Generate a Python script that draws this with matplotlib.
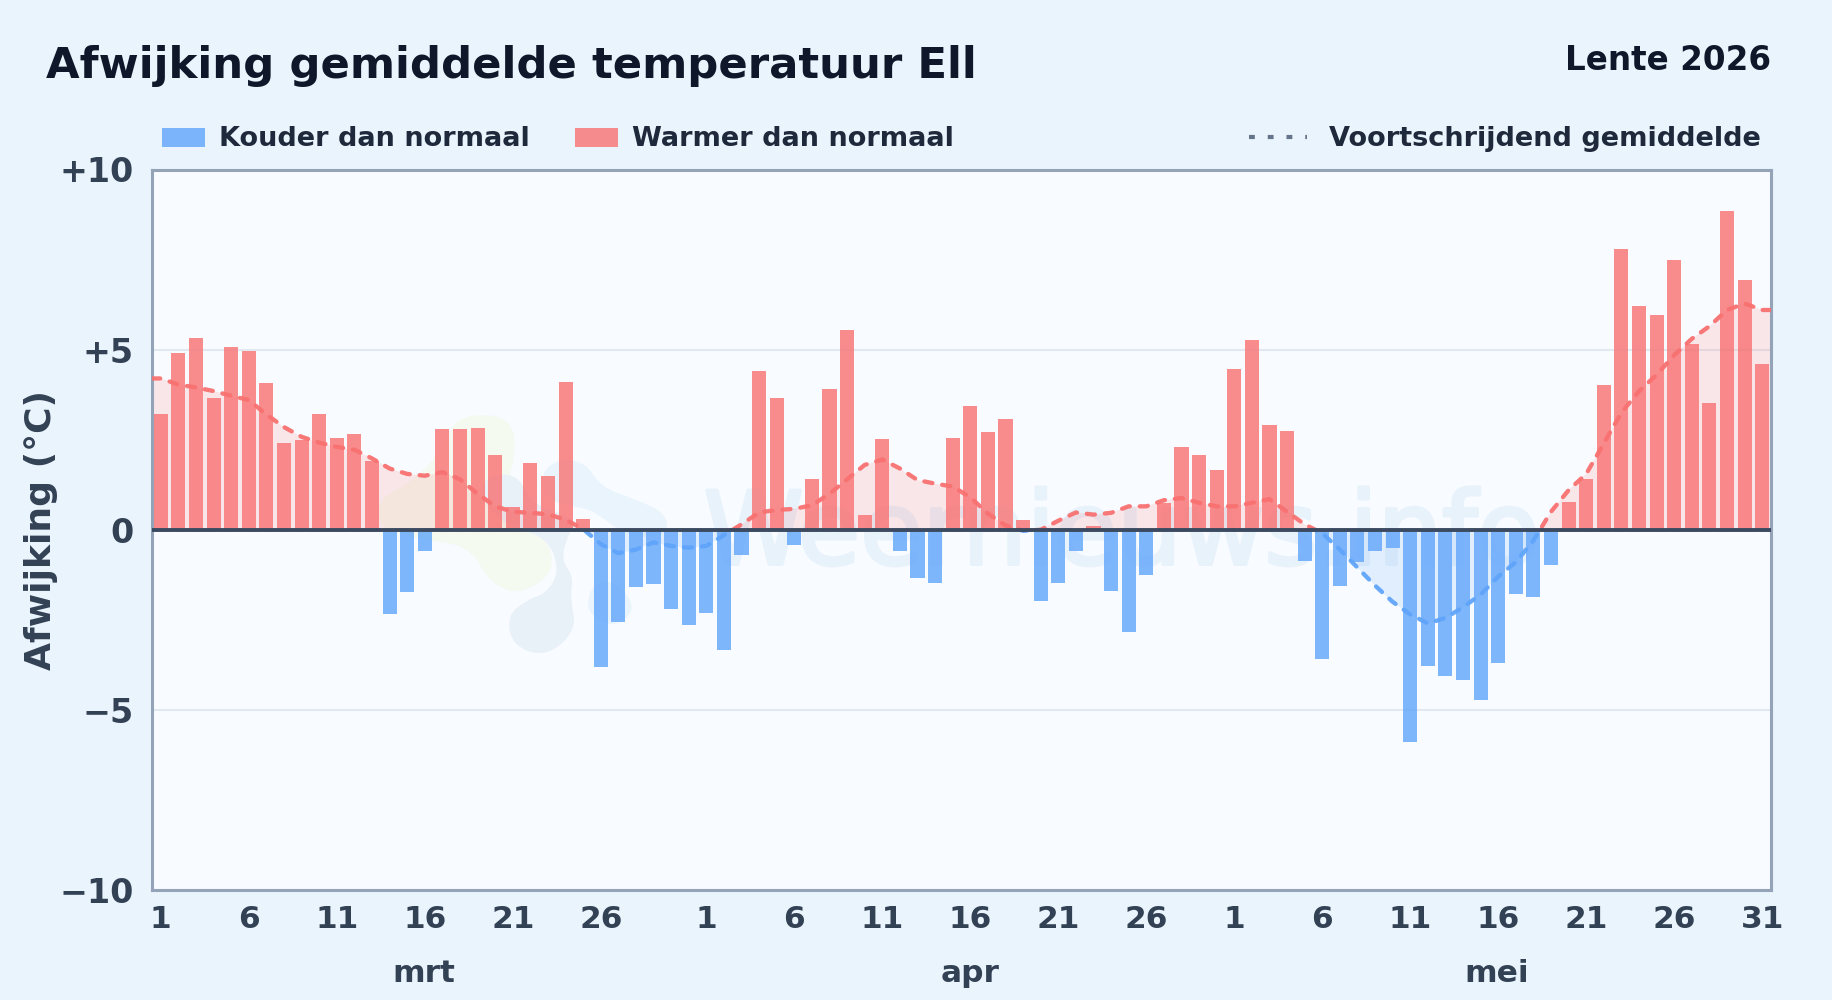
import numpy as np
import matplotlib
matplotlib.use('Agg')
import matplotlib.pyplot as plt
import matplotlib.patheffects as pe
from matplotlib.patches import Rectangle, Patch, PathPatch
from matplotlib.path import Path
from matplotlib.lines import Line2D
from matplotlib.transforms import Affine2D

# daily departure from normal, per month
mrt = [3.2, 4.9, 5.33, 3.65, 5.07, 4.97, 4.07, 2.4, 2.5, 3.2, 2.55, 2.67, 1.9, -2.35, -1.72, -0.6,
       2.8, 2.8, 2.83, 2.08, 0.62, 1.85, 1.5, 4.1, 0.3, -3.8, -2.55, -1.6, -1.5, -2.2, -2.65]
apr = [-2.3, -3.33, -0.7, 4.4, 3.67, -0.42, 1.4, 3.92, 5.55, 0.42, 2.53, -0.6, -1.33, -1.48, 2.55,
       3.43, 2.7, 3.07, 0.27, -1.97, -1.47, -0.58, 0.1, -1.7, -2.83, -1.25, 0.75, 2.3, 2.07, 1.65]
mei = [4.45, 5.27, 2.9, 2.75, -0.88, -3.6, -1.55, -0.9, -0.6, -0.5, -5.9, -3.77, -4.05, -4.18, -4.73,
       -3.7, -1.77, -1.87, -0.97, 0.77, 1.42, 4.02, 7.8, 6.2, 5.97, 7.5, 5.15, 3.52, 8.85, 6.93, 4.6]

# running mean
gemiddelde = [4.2, 4.03, 3.95, 3.85, 3.72, 3.6, 3.2, 2.85, 2.58, 2.42, 2.3, 2.22, 1.98, 1.7, 1.55, 1.5,
              1.6, 1.4, 1.0, 0.65, 0.5, 0.47, 0.43, 0.28, 0.02, -0.4, -0.65, -0.55, -0.35, -0.45, -0.5,
              -0.45, -0.15, 0.15, 0.48, 0.55, 0.58, 0.68, 1.0, 1.4, 1.8, 1.95, 1.7, 1.38, 1.28, 1.2,
              0.9, 0.45, 0.12, -0.03, 0.0, 0.25, 0.48, 0.42, 0.47, 0.65, 0.65, 0.82, 0.88, 0.75, 0.65,
              0.65, 0.75, 0.85, 0.5, 0.15, -0.1, -0.55, -1.05, -1.55, -2.0, -2.35, -2.6, -2.45, -2.15,
              -1.8, -1.3, -0.9, -0.3, 0.5, 1.1, 1.55, 2.4, 3.25, 3.85, 4.3, 4.85, 5.3, 5.65, 6.1, 6.28, 6.1]

day_ticks = [1, 6, 11, 16, 21, 26]
month_names = ['mrt', 'apr', 'mei']
y_ticks = [-10, -5, 0, 5, 10]
y_labels = ['\u221210', '\u22125', '0', '+5', '+10']

# faint logo shapes behind the chart, outline points in pixels
logo_green = [(370, 70), (280, 90), (250, 180), (150, 280), (50, 330), (60, 420), (200, 450), (330, 470),
              (390, 580), (480, 615), (580, 550), (570, 460), (500, 400), (440, 290), (470, 170), (450, 90)]
logo_grey = [(400, 250), (480, 260), (510, 340), (650, 385), (610, 470), (610, 520), (640, 560), (630, 620),
             (650, 720), (560, 800), (460, 770), (440, 680), (500, 630), (560, 610), (600, 540), (560, 440),
             (420, 400), (350, 300)]
logo_blue = [(600, 205), (680, 220), (720, 290), (830, 330), (920, 370), (920, 440), (800, 440), (700, 360),
             (640, 350), (560, 330), (540, 250)]
logo_dot = [(690, 570), (770, 560), (840, 650), (790, 710), (730, 715), (665, 660)]

RED = '#f87171'
BLUE = '#60a5fa'
INK = '#334155'
DARK = '#1e293b'
W, H = 1832, 1000

plt.rcParams['font.family'] = 'DejaVu Sans'
plt.rcParams['font.weight'] = 'bold'
plt.rcParams['axes.labelweight'] = 'bold'


def blob(points):
    # closed smooth outline through the midpoints
    pts = np.array(points) / 3 + (360, 390)
    mids = (pts + np.roll(pts, -1, axis=0)) / 2
    verts = [mids[-1]]
    codes = [Path.MOVETO]
    for p, m in zip(pts, mids):
        verts += [p, m]
        codes += [Path.CURVE3, Path.CURVE3]
    return Path(verts, codes)


fig = plt.figure(figsize=(W / 100, H / 100), dpi=100, facecolor='#eaf4fc')
ax = fig.add_axes([152 / W, 1 - 890 / H, (1771 - 152) / W, (890 - 169.5) / H], facecolor='#f8fbff')

values = np.array(mrt + apr + mei)
days = np.arange(len(values))
colors = [RED if v >= 0 else BLUE for v in values]
avg = np.array(gemiddelde)

to_px = Affine2D().scale(1, -1).translate(0, H)
for pts, col, ec in [(logo_green, '#f4faf0', 'none'), (logo_grey, '#e8f0f8', 'none'),
                     (logo_blue, '#e9f4fd', 'none'), (logo_dot, '#e9f4fd', '#f8fbff')]:
    ax.add_patch(PathPatch(blob(pts), facecolor=col, edgecolor=ec, lw=5, transform=to_px, zorder=0.5))
ax.text(54.6, -0.18, 'Weernieuws.info', fontsize=73, fontweight='normal', color='#e8f2fb', ha='center',
        va='center', zorder=0.6, path_effects=[pe.withStroke(linewidth=2.5, foreground='#e8f2fb')])

ax.grid(axis='y', color='#e2e8f0', lw=1.5, zorder=1)
ax.set_axisbelow(True)

# running mean, red above zero and blue below
xs = np.r_[-0.5, days, 91.5]
ys = np.r_[avg[0], avg, avg[-1]]
ax.fill_between(xs, ys, 0, where=ys >= 0, interpolate=True, color=RED, alpha=0.15, lw=0, zorder=1.5)
ax.fill_between(xs, ys, 0, where=ys <= 0, interpolate=True, color=BLUE, alpha=0.15, lw=0, zorder=1.5)

ax.bar(days, values, width=0.8, color=colors, alpha=0.8, lw=0, zorder=2)

for col, y0, y1 in [(RED, 0, 10), (BLUE, -10, 0)]:
    line, = ax.plot(xs, ys, color=col, lw=3.1, alpha=0.95, dashes=(1.9, 2.3), dash_capstyle='round', zorder=3)
    line.set_clip_path(Rectangle((-0.5, y0), 92, y1 - y0, transform=ax.transData))

ax.axhline(0, color='#3b4a60', lw=2.8, zorder=4)

ax.set_xlim(-0.5, 91.5)
ax.set_ylim(-10, 10)
ax.set_yticks(y_ticks)
ax.set_yticklabels(y_labels, fontsize=24, color=INK)
ax.tick_params(axis='y', length=0, pad=13)

# day labels restart each month, last one shows the 31st
starts = np.cumsum([0, len(mrt), len(apr)])
tick_pos, tick_lab = [], []
for s in starts:
    for d in day_ticks:
        tick_pos.append(s + d - 1)
        tick_lab.append(str(d))
tick_pos.append(91)
tick_lab.append('31')
ax.set_xticks(tick_pos)
ax.set_xticklabels(tick_lab, fontsize=22.5, color=INK)
ax.tick_params(axis='x', length=0, pad=11)

for name, px in zip(month_names, [424, 970, 1497]):
    fig.text(px / W, 1 - 973 / H, name, fontsize=22.5, color=INK, ha='center', va='center')

for s in ax.spines.values():
    s.set_color('#94a3b8')
    s.set_linewidth(2.2)

ax.set_ylabel('Afwijking (\u00b0C)', fontsize=26, color=INK)
ax.yaxis.set_label_coords((58 - 152) / (1771 - 152), 0.5)

fig.text(46 / W, 1 - 66 / H, 'Afwijking gemiddelde temperatuur Ell', fontsize=31.2, color='#0f172a', va='center')
fig.text(1771 / W, 1 - 60 / H, 'Lente 2026', fontsize=23.5, color='#0f172a', ha='right', va='center')

h1 = [Patch(color=BLUE, alpha=0.8, lw=0), Patch(color=RED, alpha=0.8, lw=0)]
fig.legend(h1, ['Kouder dan normaal', 'Warmer dan normaal'], loc='center left', ncol=2, frameon=False,
           bbox_to_anchor=(162 / W, 1 - 139.5 / H), fontsize=19.5, labelcolor=DARK, handlelength=1.6,
           handleheight=0.7, handletextpad=0.52, columnspacing=1.65, borderpad=0, borderaxespad=0)
h2 = [Line2D([0], [0], color='#64748b', lw=3, dashes=(1.4, 3.1))]
fig.legend(h2, ['Voortschrijdend gemiddelde'], loc='center right', frameon=False,
           bbox_to_anchor=(1761 / W, 1 - 139.5 / H), fontsize=19.5, labelcolor=DARK, handlelength=2.15,
           handletextpad=0.8, borderpad=0, borderaxespad=0)

fig.savefig('out.png', dpi=100, facecolor=fig.get_facecolor())
